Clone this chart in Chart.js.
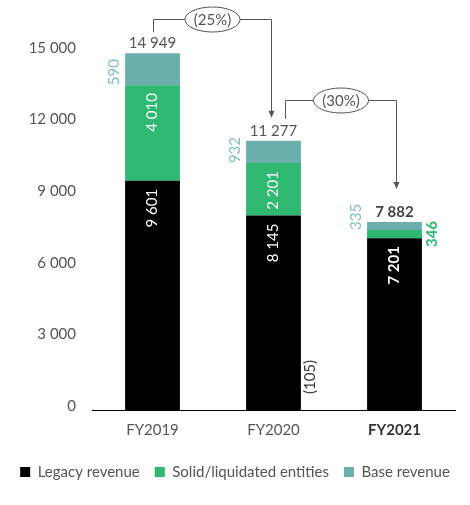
<!DOCTYPE html>
<html>
<head>
<meta charset="utf-8">
<script src="https://cdn.jsdelivr.net/npm/chart.js@4"></script>
<style>
  html, body { margin: 0; padding: 0; background: #fff; }
  #wrap { width: 470px; height: 505px; }
</style>
</head>
<body>
<div id="wrap"><canvas id="revenueChart"></canvas></div>
<script>
const years = ['FY2019', 'FY2020', 'FY2021'];
const legacyRevenue = [9601, 8145, 7201];
const solidEntities = [4010, 2201, 346];
const baseRevenue = [590, 932, 335];
const totalRevenue = [14949, 11277, 7882];
const changeLabels = ['(25%)', '(30%)'];
const yTicks = [0, 3000, 6000, 9000, 12000, 15000];
const fy2020Note = '(105)';

const FONT = 'Lato, "Open Sans", sans-serif';
const GREEN = '#2eb872';
const TEAL = '#6aafac';
const TEAL_TEXT = '#7dbfbb';
const GREY = '#555';

const fmt = v => String(v).replace(/\B(?=(\d{3})+(?!\d))/g, ' ');

// the top segment is stacked up to the reported total
const baseDrawn = totalRevenue.map((t, i) => t - legacyRevenue[i] - solidEntities[i]);

function rotatedText(ctx, text, x, y, align) {
    ctx.save();
    ctx.translate(x, y);
    ctx.rotate(-Math.PI / 2);
    ctx.textAlign = align;
    ctx.textBaseline = 'middle';
    ctx.fillText(text, 0, 0);
    ctx.restore();
}

function bracket(ctx, x1, yLeg, yLine, x2, yTip, label) {
    x1 = Math.round(x1) + 0.5;
    x2 = Math.round(x2) + 0.5;
    yLine = Math.round(yLine) + 0.5;
    ctx.strokeStyle = GREY;
    ctx.fillStyle = GREY;
    ctx.lineWidth = 1;
    ctx.beginPath();
    ctx.moveTo(x1, yLeg);
    ctx.lineTo(x1, yLine);
    ctx.lineTo(x2, yLine);
    ctx.lineTo(x2, yTip - 6);
    ctx.stroke();
    ctx.beginPath();
    ctx.moveTo(x2 - 3, yTip - 7);
    ctx.lineTo(x2 + 3, yTip - 7);
    ctx.lineTo(x2, yTip);
    ctx.closePath();
    ctx.fill();
    const cx = (x1 + x2) / 2;
    ctx.beginPath();
    ctx.ellipse(cx, yLine, 27.5, 12.5, 0, 0, Math.PI * 2);
    ctx.fillStyle = '#fff';
    ctx.fill();
    ctx.stroke();
    ctx.fillStyle = GREY;
    ctx.font = '15px ' + FONT;
    ctx.textAlign = 'center';
    ctx.textBaseline = 'middle';
    ctx.fillText(label, cx, yLine + 1);
}

const barLabels = {
    id: 'barLabels',
    afterDatasetsDraw(chart) {
        const ctx = chart.ctx;
        const legacy = chart.getDatasetMeta(0).data;
        const solid = chart.getDatasetMeta(1).data;
        const base = chart.getDatasetMeta(2).data;
        ctx.save();
        years.forEach((yr, i) => {
            const bold = i === years.length - 1 ? 'bold ' : '';
            [[legacy[i], legacyRevenue[i]], [solid[i], solidEntities[i]]].forEach(([bar, v]) => {
                if (bar.base - bar.y < 25) {
                    ctx.fillStyle = GREEN;
                    ctx.font = 'bold 15px ' + FONT;
                    rotatedText(ctx, fmt(v), bar.x + bar.width / 2 + 10, (bar.y + bar.base) / 2, 'center');
                } else {
                    ctx.fillStyle = '#fff';
                    ctx.font = bold + '15px ' + FONT;
                    rotatedText(ctx, fmt(v), bar.x, bar.y + 8, 'right');
                }
            });
            const b = base[i];
            ctx.fillStyle = TEAL_TEXT;
            ctx.font = '15px ' + FONT;
            rotatedText(ctx, fmt(baseRevenue[i]), b.x - b.width / 2 - 11, b.base, 'left');

            ctx.fillStyle = i === years.length - 1 ? '#444' : GREY;
            ctx.font = bold + '15px ' + FONT;
            ctx.textAlign = 'center';
            ctx.textBaseline = 'alphabetic';
            ctx.fillText(fmt(totalRevenue[i]), b.x, b.y - 5);
        });

        const tops = base.map(b => b.y);
        const xs = base.map(b => b.x);
        bracket(ctx, xs[0], tops[0] - 21, tops[0] - 34, xs[1] - 3, tops[1] - 23, changeLabels[0]);
        bracket(ctx, xs[1] + 11.5, tops[1] - 22, tops[1] - 41, xs[2] + 1, tops[2] - 33, changeLabels[1]);

        const y0 = chart.scales.y.getPixelForValue(0);
        ctx.fillStyle = '#333';
        ctx.font = '15px ' + FONT;
        rotatedText(ctx, fy2020Note, legacy[1].x + legacy[1].width / 2 + 9, y0 - 33, 'center');
        ctx.restore();
    }
};

const ctx = document.getElementById('revenueChart').getContext('2d');
new Chart(ctx, {
    type: 'bar',
    data: {
        labels: years,
        datasets: [{
            label: 'Legacy revenue',
            data: legacyRevenue,
            backgroundColor: '#000',
            borderWidth: 0
        }, {
            label: 'Solid/liquidated entities',
            data: solidEntities,
            backgroundColor: GREEN,
            borderWidth: 0
        }, {
            label: 'Base revenue',
            data: baseDrawn,
            backgroundColor: TEAL,
            borderWidth: 0
        }]
    },
    options: {
        responsive: true,
        maintainAspectRatio: false,
        animation: false,
        layout: {
            padding: { top: 52, right: 0, bottom: 15.5, left: 0 }
        },
        datasets: {
            bar: { barPercentage: 0.453, categoryPercentage: 1 }
        },
        scales: {
            x: {
                stacked: true,
                grid: { display: false, drawTicks: false },
                border: { display: true, color: '#000', width: 1 },
                ticks: {
                    padding: 11,
                    color: c => c.index === 2 ? '#333' : GREY,
                    font: c => ({ family: FONT, size: 15, weight: c.index === 2 ? 'bold' : 'normal' })
                },
                afterFit: s => { s.height = 39.5; }
            },
            y: {
                stacked: true,
                min: 0,
                max: 15000,
                grid: { display: false, drawTicks: false },
                border: { display: false },
                afterBuildTicks: s => { s.ticks = yTicks.map(v => ({ value: v })); },
                afterFit: s => { s.width = 92; },
                ticks: {
                    padding: 16,
                    labelOffset: -4,
                    color: GREY,
                    font: { family: FONT, size: 15 },
                    callback: v => fmt(v)
                }
            },
            // empty right-hand gutter so the legend can use the full width
            yGutter: {
                position: 'right',
                min: 0,
                max: 1,
                grid: { display: false, drawTicks: false },
                border: { display: false },
                ticks: { display: false },
                afterFit: s => { s.width = 15; }
            }
        },
        plugins: {
            legend: {
                position: 'bottom',
                labels: {
                    boxWidth: 10,
                    boxHeight: 10,
                    padding: 15,
                    color: GREY,
                    font: { family: FONT, size: 15 }
                }
            },
            tooltip: { enabled: false }
        }
    },
    plugins: [barLabels]
});
</script>
</body>
</html>
